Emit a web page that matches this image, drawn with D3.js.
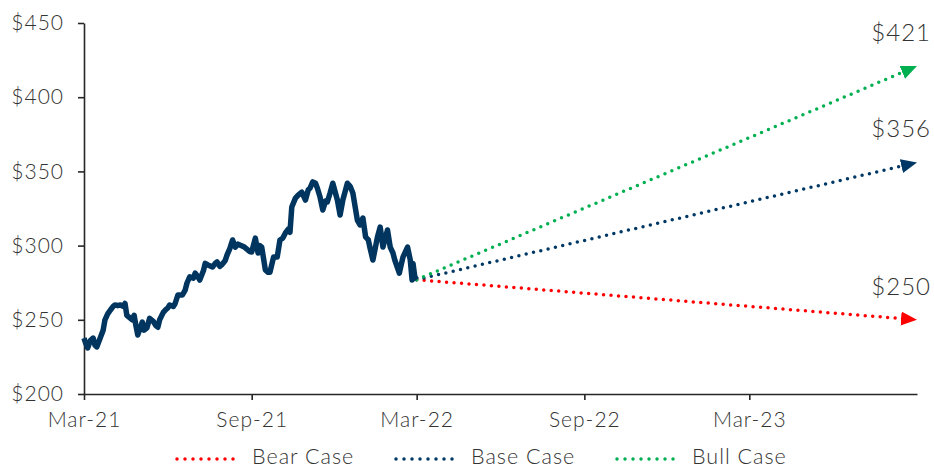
<!DOCTYPE html>
<html>
<head>
<meta charset="utf-8">
<script src="https://cdn.jsdelivr.net/npm/d3@7"></script>
<style>
  body { margin: 0; background: #fff; }
  svg text { font-family: Lato, "Open Sans", sans-serif; font-weight: 300; fill: #333; letter-spacing: 1px; }
</style>
</head>
<body>
<svg></svg>
<script>
// share price, Mar-21 to Mar-22
var priceDates = ['2021-03-01','2021-03-03','2021-03-05','2021-03-08','2021-03-11','2021-03-13','2021-03-15','2021-03-19',
  '2021-03-22','2021-03-24','2021-03-27','2021-03-30','2021-04-02','2021-04-04','2021-04-07','2021-04-10','2021-04-13',
  '2021-04-15','2021-04-17','2021-04-21','2021-04-23','2021-04-25','2021-04-27','2021-04-29','2021-05-02','2021-05-04',
  '2021-05-06','2021-05-09','2021-05-12','2021-05-16','2021-05-19','2021-05-21','2021-05-23','2021-05-27','2021-05-30',
  '2021-06-01','2021-06-03','2021-06-07','2021-06-09','2021-06-12','2021-06-17','2021-06-20','2021-06-22','2021-06-25',
  '2021-06-29','2021-07-01','2021-07-04','2021-07-06','2021-07-10','2021-07-12','2021-07-15','2021-07-20','2021-07-23',
  '2021-07-25','2021-07-28','2021-07-30','2021-08-03','2021-08-05','2021-08-08','2021-08-11','2021-08-14','2021-08-17',
  '2021-08-19','2021-08-24','2021-08-28','2021-08-30','2021-09-01','2021-09-05','2021-09-08','2021-09-10','2021-09-12',
  '2021-09-16','2021-09-19','2021-09-21','2021-09-25','2021-09-29','2021-10-02','2021-10-05','2021-10-08','2021-10-11',
  '2021-10-13','2021-10-15','2021-10-19','2021-10-22','2021-10-26','2021-10-30','2021-11-02','2021-11-04','2021-11-07',
  '2021-11-10','2021-11-12','2021-11-15','2021-11-18','2021-11-21','2021-11-23','2021-11-26','2021-11-29','2021-12-04',
  '2021-12-07','2021-12-10','2021-12-15','2021-12-18','2021-12-21','2021-12-26','2021-12-29','2022-01-01','2022-01-04',
  '2022-01-07','2022-01-09','2022-01-12','2022-01-17','2022-01-20','2022-01-23','2022-01-28','2022-01-31','2022-02-03',
  '2022-02-05','2022-02-10','2022-02-12','2022-02-14','2022-02-19','2022-02-22','2022-02-24','2022-02-25','2022-02-27',
  '2022-03-01']
var prices = [237.7,234,231,236,237.7,233,231.7,238,
  243,250,254,256.6,259,260,259.5,260,259,
  261,253,251,250,253,246,239.8,245,248.5,
  243,244.5,251,249,246,245,250,255,257,
  258,260,259,261,266.7,266.7,270,274.8,279,
  278,281.5,279,276.8,283,288,287,285.6,288,
  289,286,287,290,293.7,298,303.8,299,301,
  300.4,299,297,296,295.7,305,295,300,299,
  283.6,282,282,292.3,292.3,303.8,305,308.5,311,
  309,326,332,334,336,330.7,337.5,338.8,342.9,
  342,338.8,332.7,324,330,329.4,335.4,342,330.7,
  320.6,330.7,342,340,335.4,317,313.9,318.6,305.8,
  303.8,298,290.3,305.8,312.5,299,310.5,299,295,
  290.3,281.5,287,292.3,299,290.3,276.8,288,279,
  277]

// scenarios
var caseNames = ['Bear Case', 'Base Case', 'Bull Case']
var caseTargets = [250, 356, 421]
var caseColors = ['#ff0000', '#003865', '#00b050']
var caseStart = '2022-03-01'
var caseEnd = '2023-09-01'
var startPrice = 277

var tickDates = ['2021-03-01', '2021-09-01', '2022-03-01', '2022-09-01', '2023-03-01']
var tickLabels = ['Mar-21', 'Sep-21', 'Mar-22', 'Sep-22', 'Mar-23']
var yTicks = [200, 250, 300, 350, 400, 450]

var parse = d3.timeParse('%Y-%m-%d')
var svg = d3.select('svg').attr('width', 934).attr('height', 469)

var x = d3.scaleTime().domain([parse('2021-03-01'), parse('2023-09-01')]).range([84, 917])
var y = d3.scaleLinear().domain([200, 450]).range([394, 23])

// axes
var yAxis = svg.append('g')
    .attr('transform', 'translate(84, 0)')
    .call(d3.axisLeft(y).tickValues(yTicks).tickFormat((d) => '$' + d).tickSize(6).tickSizeOuter(0))
var xAxis = svg.append('g')
    .attr('transform', 'translate(0, 394)')
    .call(d3.axisBottom(x).tickValues(tickDates.map(parse))
        .tickFormat((d, i) => tickLabels[i]).tickSize(6).tickSizeOuter(0))

svg.selectAll('.domain, .tick line').attr('stroke', '#262626').attr('stroke-width', 1.6)
yAxis.selectAll('text').attr('font-size', 21).attr('x', -20).attr('fill', '#333')
xAxis.selectAll('text').attr('font-size', 21).attr('dy', '1.15em').attr('fill', '#333')

// arrow heads
var defs = svg.append('defs')
caseColors.forEach((c, i) => {
    defs.append('marker')
        .attr('id', 'arrow' + i)
        .attr('markerUnits', 'userSpaceOnUse')
        .attr('markerWidth', 18).attr('markerHeight', 16)
        .attr('refX', 16).attr('refY', 7)
        .attr('orient', 'auto')
        .append('path')
        .attr('d', 'M0,0 L16,7 L0,14 Z')
        .attr('fill', c)
})

// scenario lines
var x0 = x(parse(caseStart)), x1 = x(parse(caseEnd))
caseNames.forEach((name, i) => {
    var y0 = y(startPrice), y1 = y(caseTargets[i])
    var back = (k) => y1 + (y0 - y1) * k / (x1 - x0)
    svg.append('line')
        .attr('x1', x0).attr('y1', y0)
        .attr('x2', x1 - 8).attr('y2', back(8))
        .attr('stroke', caseColors[i])
        .attr('stroke-width', 3.5)
        .attr('stroke-linecap', 'round')
        .attr('stroke-dasharray', '0 7.5')
    svg.append('line')
        .attr('x1', x1 - 10).attr('y1', back(10))
        .attr('x2', x1).attr('y2', y1)
        .attr('stroke', 'none')
        .attr('marker-end', 'url(#arrow' + i + ')')
    svg.append('text')
        .attr('x', x1 + 14)
        .attr('y', y1 - 25)
        .attr('text-anchor', 'end')
        .attr('font-size', 24)
        .text('$' + caseTargets[i])
})

// price line
var line = d3.line()
    .x((d, i) => x(parse(priceDates[i])))
    .y((d) => y(d))
svg.append('path')
    .datum(prices)
    .attr('d', line)
    .attr('fill', 'none')
    .attr('stroke', '#00355f')
    .attr('stroke-width', 5.5)
    .attr('stroke-linejoin', 'round')

// legend
var legendX = [175, 394, 615]
var legend = svg.append('g')
caseNames.forEach((name, i) => {
    legend.append('line')
        .attr('x1', legendX[i] + 2).attr('x2', legendX[i] + 66)
        .attr('y1', 459).attr('y2', 459)
        .attr('stroke', caseColors[i])
        .attr('stroke-width', 3.5)
        .attr('stroke-linecap', 'round')
        .attr('stroke-dasharray', '0 8')
    legend.append('text')
        .attr('x', legendX[i] + 77)
        .attr('y', 464)
        .attr('font-size', 21.5)
        .attr('letter-spacing', 1.3)
        .text(name)
})
</script>
</body>
</html>
